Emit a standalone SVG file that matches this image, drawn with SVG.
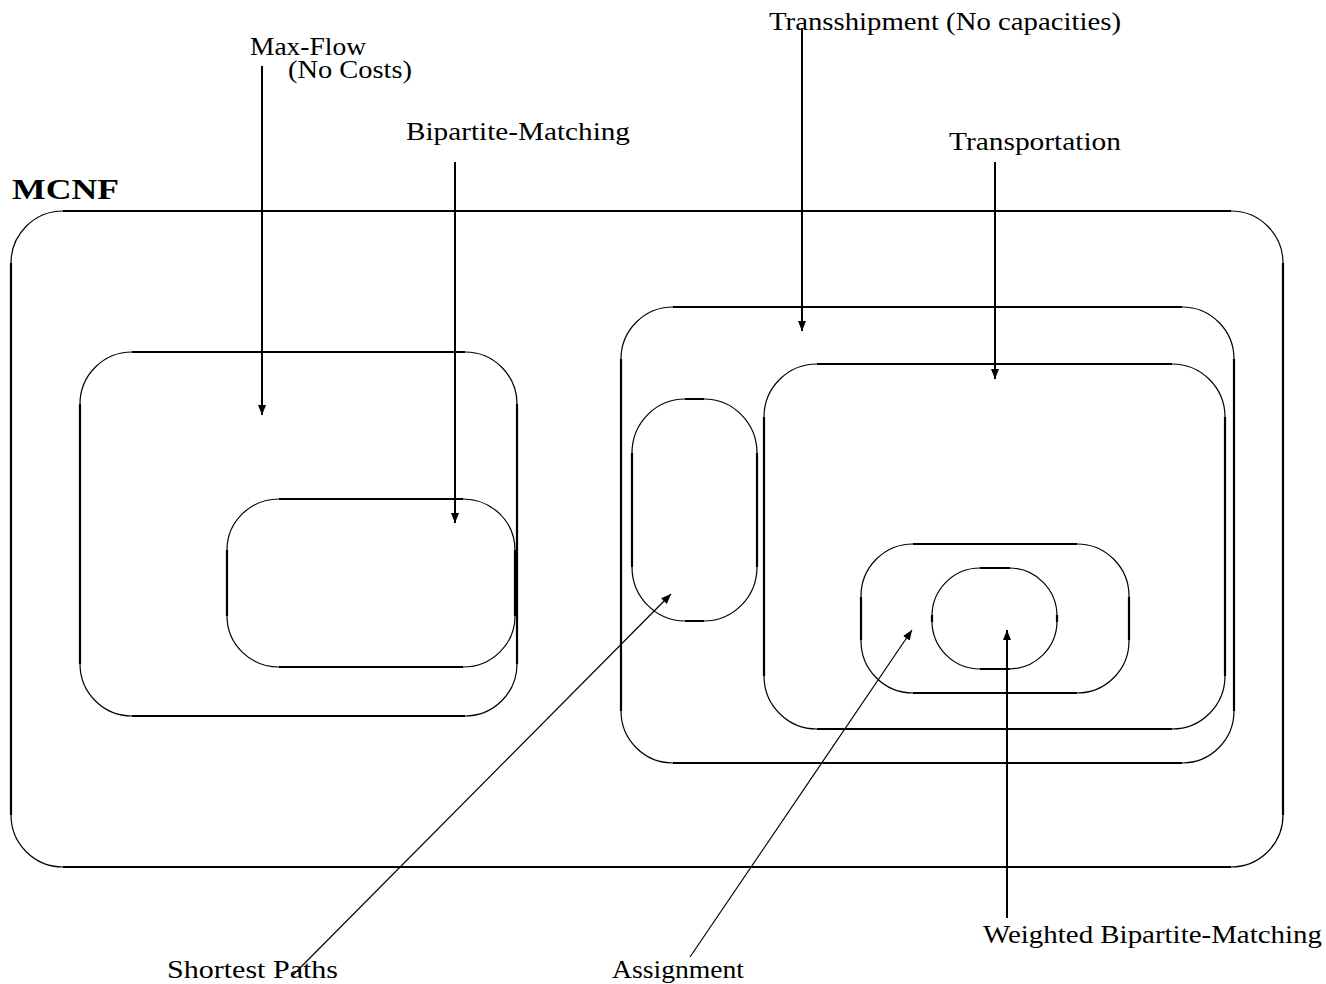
<svg xmlns="http://www.w3.org/2000/svg" width="1326" height="984" viewBox="0 0 1326 984">
<style>
.arc{fill:none;stroke:#000;stroke-width:1.2}
.side{stroke:#000;stroke-width:2.2;fill:none}
.con{stroke:#000;fill:none}
.t{font-family:"Liberation Serif","Times New Roman",serif;font-size:25px;fill:#000}
.b{font-family:"Liberation Serif","Times New Roman",serif;font-size:29px;font-weight:bold;fill:#000}
</style>
<defs>
<marker id="ah" markerUnits="userSpaceOnUse" markerWidth="11" markerHeight="8" refX="10" refY="4" orient="auto">
<path d="M0,0 L10,4 L0,8 z" fill="#000"/>
</marker>
</defs>
<rect width="1326" height="984" fill="#fff"/>

<g id="mcnf">
<rect class="arc" x="11" y="211" width="1272" height="656" rx="52" ry="52"/>
<path class="side" d="M63,211H1231M63,867H1231M11,263V815M1283,263V815"/>
<text class="b" x="12" y="199" textLength="107" lengthAdjust="spacingAndGlyphs">MCNF</text>
</g>

<g id="maxflow">
<rect class="arc" x="80" y="352" width="437" height="364" rx="52" ry="52"/>
<path class="side" d="M132,352H465M132,716H465M80,404V664M517,404V664"/>
</g>

<g id="bipartite">
<rect class="arc" x="227" y="499" width="288" height="168" rx="52" ry="51"/>
<path class="side" d="M279,499H463M279,667H463M227,550V616M515,550V616"/>
</g>

<g id="transshipment">
<rect class="arc" x="621" y="307" width="613" height="456" rx="52" ry="52"/>
<path class="side" d="M673,307H1182M673,763H1182M621,359V711M1234,359V711"/>
</g>

<g id="shortest">
<rect class="arc" x="632" y="399" width="125" height="222" rx="53" ry="54"/>
<path class="side" d="M685,399H704M685,621H704M632,453V567M757,453V567"/>
</g>

<g id="transportation">
<rect class="arc" x="764" y="364" width="461" height="365" rx="53" ry="53"/>
<path class="side" d="M817,364H1172M817,729H1172M764,417V676M1225,417V676"/>
</g>

<g id="assignment">
<rect class="arc" x="861" y="544" width="268" height="149" rx="52" ry="52"/>
<path class="side" d="M913,544H1077M913,693H1077M861,597V640M1129,597V640"/>
</g>

<g id="wbm">
<rect class="arc" x="932" y="568" width="125" height="101" rx="48" ry="48"/>
<path class="side" d="M980,568H1010M980,669H1010M932,615V622M1057,615V622"/>
</g>

<g id="connectors">
<line class="con" stroke-width="2" x1="262" y1="66" x2="262" y2="415" marker-end="url(#ah)"/>
<line class="con" stroke-width="2" x1="455" y1="162" x2="455" y2="523" marker-end="url(#ah)"/>
<line class="con" stroke-width="2" x1="802" y1="28" x2="802" y2="331" marker-end="url(#ah)"/>
<line class="con" stroke-width="2" x1="995" y1="162" x2="995" y2="379" marker-end="url(#ah)"/>
<line class="con" stroke-width="1.2" x1="293" y1="975" x2="671" y2="594" marker-end="url(#ah)"/>
<line class="con" stroke-width="1.2" x1="690" y1="957" x2="912" y2="630" marker-end="url(#ah)"/>
<line class="con" stroke-width="2" x1="1007" y1="918" x2="1007" y2="630" marker-end="url(#ah)"/>
</g>

<g id="labels">
<text class="t" x="250" y="55" textLength="116" lengthAdjust="spacingAndGlyphs">Max-Flow</text>
<text class="t" x="288" y="78" textLength="124" lengthAdjust="spacingAndGlyphs">(No Costs)</text>
<text class="t" x="406" y="140" textLength="224" lengthAdjust="spacingAndGlyphs">Bipartite-Matching</text>
<text class="t" x="769" y="30" textLength="352" lengthAdjust="spacingAndGlyphs">Transshipment (No capacities)</text>
<text class="t" x="949" y="150" textLength="172" lengthAdjust="spacingAndGlyphs">Transportation</text>
<text class="t" x="167" y="978" textLength="171" lengthAdjust="spacingAndGlyphs">Shortest Paths</text>
<text class="t" x="612" y="978" textLength="132" lengthAdjust="spacingAndGlyphs">Assignment</text>
<text class="t" x="983" y="943" textLength="339" lengthAdjust="spacingAndGlyphs">Weighted Bipartite-Matching</text>
</g>
</svg>
